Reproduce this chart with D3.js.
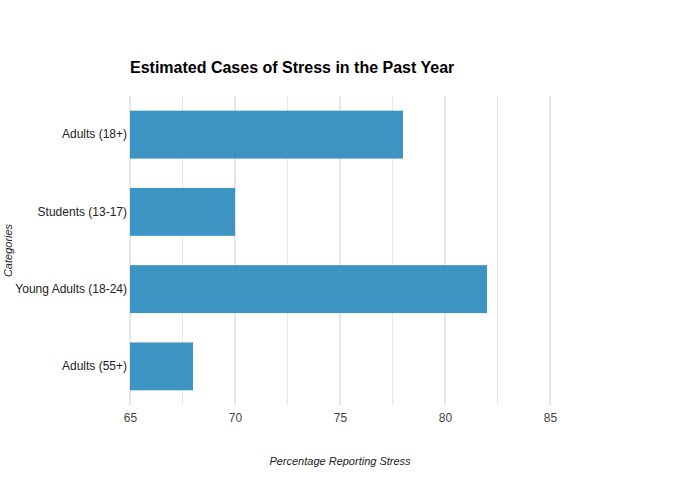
<!DOCTYPE html>
<html>
<head>
<meta charset="utf-8">
<script src="https://cdn.jsdelivr.net/npm/d3@7"></script>
<style>
  html, body { margin: 0; padding: 0; background: #fff; }
  svg { display: block; font-family: "Liberation Sans", Arial, Helvetica, sans-serif; }
</style>
</head>
<body>
<svg id="chart" width="680" height="500"></svg>
<script>
const categories = ["Adults (18+)", "Students (13-17)", "Young Adults (18-24)", "Adults (55+)"];
const values = [78, 70, 82, 68];
const majorTicks = [65, 70, 75, 80, 85];
const minorTicks = [67.5, 72.5, 77.5, 82.5];
const xDomain = [65, 85];
const title = "Estimated Cases of Stress in the Past Year";
const xTitle = "Percentage Reporting Stress";
const yTitle = "Categories";

const svg = d3.select("#chart");
const margin = { left: 130, right: 130, top: 96, bottom: 95 };
const W = 680, H = 500;

const x = d3.scaleLinear().domain(xDomain).range([margin.left, W - margin.right]);
const y = d3.scaleBand().domain(categories).range([margin.top, H - margin.bottom]).paddingInner(0.38).paddingOuter(0.19);

// minor gridlines
svg.append("g").selectAll("line").data(minorTicks).join("line")
  .attr("x1", d => x(d)).attr("x2", d => x(d))
  .attr("y1", margin.top).attr("y2", H - margin.bottom)
  .attr("stroke", "#e8e8e8").attr("stroke-width", 1);

// major gridlines
svg.append("g").selectAll("line").data(majorTicks).join("line")
  .attr("x1", d => x(d)).attr("x2", d => x(d))
  .attr("y1", margin.top).attr("y2", H - margin.bottom)
  .attr("stroke", "#cccccc").attr("stroke-width", 1);

// bars
svg.append("g").selectAll("rect").data(categories).join("rect")
  .attr("x", x(xDomain[0]))
  .attr("y", d => y(d))
  .attr("width", (d, i) => x(values[i]) - x(xDomain[0]))
  .attr("height", y.bandwidth())
  .attr("fill", "#3b94c2");

// x axis
const xAxis = d3.axisBottom(x).tickValues(majorTicks).tickSize(0).tickPadding(0).tickFormat(d3.format("d"));
const gx = svg.append("g").attr("transform", `translate(0,${H - margin.bottom})`).call(xAxis);
gx.select(".domain").remove();
gx.selectAll("text").attr("font-size", 12).attr("fill", "#444").attr("dy", "1.4em")
  .attr("font-family", "Liberation Sans, Arial, sans-serif");

// y axis
const yAxis = d3.axisLeft(y).tickSize(0).tickPadding(3);
const gy = svg.append("g").attr("transform", `translate(${margin.left},0)`).call(yAxis);
gy.select(".domain").remove();
gy.selectAll("text").attr("font-size", 12).attr("fill", "#222")
  .attr("font-family", "Liberation Sans, Arial, sans-serif");

// title
svg.append("text").attr("x", margin.left).attr("y", 73)
  .attr("font-size", 16).attr("font-weight", "bold").attr("fill", "#000")
  .text(title);

// axis titles
svg.append("text").attr("x", (x(xDomain[0]) + 550) / 2 ).attr("y", 465)
  .attr("text-anchor", "middle").attr("font-size", 11).attr("font-style", "italic").attr("fill", "#222")
  .text(xTitle);

svg.append("text").attr("transform", `translate(12,${(margin.top + H - margin.bottom) / 2}) rotate(-90)`)
  .attr("text-anchor", "middle").attr("font-size", 11).attr("font-style", "italic").attr("fill", "#222")
  .text(yTitle);
</script>
</body>
</html>
